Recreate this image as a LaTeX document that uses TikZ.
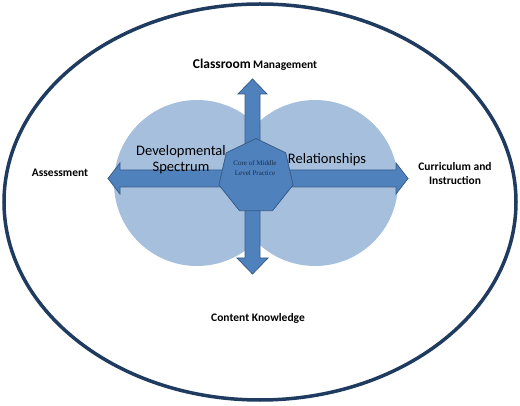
\documentclass[tikz,border=0pt]{standalone}
\usepackage{fontspec}
\setmainfont{Carlito}
\newfontfamily\serifcore{Liberation Serif}
\usetikzlibrary{shapes.geometric}
\definecolor{navy}{HTML}{1F3B5F}
\definecolor{lightcirc}{HTML}{A6BFDD}
\definecolor{arrowfill}{HTML}{4F81BD}
\definecolor{arrowline}{HTML}{385D8A}
\tikzset{
  bubble/.style={fill=lightcirc, draw=none},
  arrowshape/.style={fill=arrowfill, draw=arrowline, line width=0.8pt, line join=miter},
  lbl/.style={font=\bfseries\fontsize{11.5}{13}\selectfont, align=center, inner sep=0pt},
  biglbl/.style={font=\fontsize{14.5}{15.5}\selectfont, align=center, inner sep=0pt},
}
\begin{document}
\begin{tikzpicture}[x=1pt,y=-1pt]
\useasboundingbox (0,0) rectangle (520,406);
% outer ellipse
\draw[navy, line width=3.5pt] (260,202) ellipse [x radius=256, y radius=198];
% circles
\fill[bubble] (197,183) circle [radius=83];
\fill[bubble] (315,183) circle [radius=83];
% horizontal double arrow
\path[arrowshape] (108,178.5) -- (120,163) -- (120,170) -- (396,170) -- (396,163) -- (408,178.5)
  -- (396,194) -- (396,187) -- (120,187) -- (120,194) -- cycle;
% vertical double arrow
\path[arrowshape] (252.5,79) -- (267,94) -- (260,94) -- (260,258) -- (268,258) -- (252.5,274)
  -- (237,258) -- (245,258) -- (245,94) -- (238,94) -- cycle;
% heptagon
\node[regular polygon, regular polygon sides=7, minimum size=76pt, inner sep=0pt,
      fill=arrowfill, draw=arrowline, line width=0.8pt] (core) at (256,176.5) {};
\node[font=\serifcore\fontsize{7}{10}\selectfont, align=center, inner sep=0pt, text=navy!80!black]
  (coretxt) at (255,168) {Core of Middle\\Level Practice};
% labels
\node[inner sep=0pt, font=\bfseries] (cm) at (255,65)
  {{\fontsize{13.5}{15}\selectfont Classroom} {\fontsize{11.5}{13}\selectfont Management}};
\node[lbl] (assess) at (60,173) {Assessment};
\node[lbl] (curr) at (455,174) {Curriculum and\\[1pt]Instruction};
\node[lbl] (ck) at (258,318) {Content Knowledge};
\node[biglbl] (dev) at (181,159.5) {Developmental\\Spectrum};
\node[biglbl] (rel) at (327,160) {Relationships};
\end{tikzpicture}
\end{document}
